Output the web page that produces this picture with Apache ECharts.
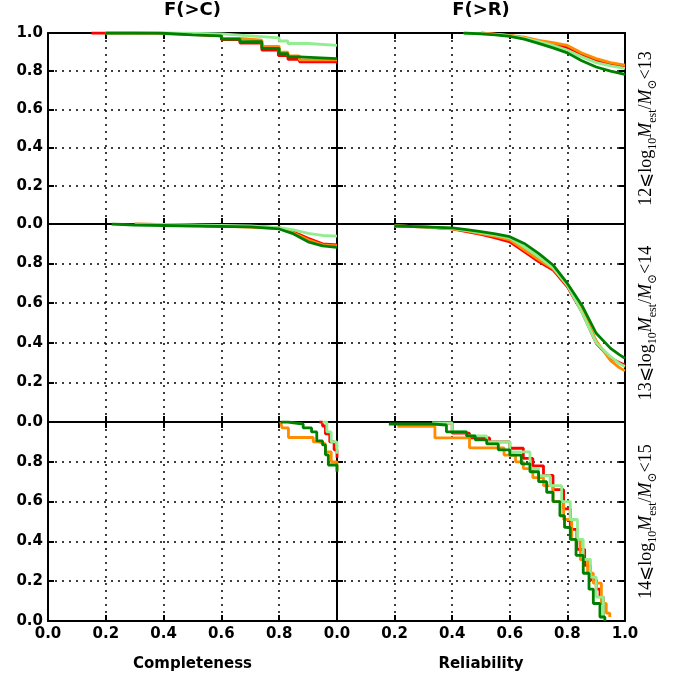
<!DOCTYPE html>
<html><head><meta charset="utf-8">
<script src="https://cdn.jsdelivr.net/npm/echarts@6/dist/echarts.min.js"></script>
<style>html,body{margin:0;padding:0;background:#fff}#c{width:676px;height:676px}</style>
</head><body><div id="c"></div>
<script>
// ---- data: [x, F] points ----
const ticks = [0.0, 0.2, 0.4, 0.6, 0.8, 1.0];
const colTitles = ['F(>C)', 'F(>R)'];
const xNames = ['Completeness', 'Reliability'];
const rowRanges = [['12', '13'], ['13', '14'], ['14', '15']];
const seriesNames = ['red', 'orange', 'lightgreen', 'green'];
const seriesColors = ['#ff0000', '#ff8c00', '#90ee90', '#008000'];

// row 1: 12 <= log M < 13, completeness
const c12_red = [[0.15,1.0],[0.3,0.995],[0.45,0.985],[0.6,0.965],[0.664,0.947],[0.74,0.91],[0.797,0.882],[0.83,0.862],[0.87,0.849],[1.0,0.849]];
const c12_orange = [[0.2,1.0],[0.4,0.995],[0.5,0.985],[0.6,0.972],[0.664,0.962],[0.74,0.93],[0.8,0.9],[0.83,0.88],[0.87,0.859],[1.0,0.859]];
const c12_lightgreen = [[0.2,1.0],[0.45,0.995],[0.6,0.985],[0.7,0.975],[0.8,0.958],[0.83,0.945],[0.9,0.935],[1.0,0.935]];
const c12_green = [[0.2,1.0],[0.38,0.99],[0.5,0.985],[0.6,0.968],[0.664,0.955],[0.74,0.92],[0.8,0.892],[0.83,0.875],[0.87,0.866],[1.0,0.866]];
// row 1: reliability
const r12_red = [[0.5,1.0],[0.6,0.986],[0.65,0.975],[0.7,0.957],[0.75,0.942],[0.8,0.924],[0.85,0.885],[0.9,0.855],[0.95,0.838],[1.0,0.825]];
const r12_orange = [[0.5,1.0],[0.6,0.988],[0.65,0.978],[0.7,0.962],[0.75,0.95],[0.8,0.935],[0.85,0.895],[0.9,0.866],[0.95,0.845],[1.0,0.832]];
const r12_lightgreen = [[0.44,1.0],[0.55,0.993],[0.6,0.985],[0.65,0.973],[0.7,0.955],[0.75,0.935],[0.8,0.909],[0.85,0.875],[0.9,0.845],[0.95,0.828],[1.0,0.815]];
const r12_green = [[0.44,1.0],[0.5,0.995],[0.55,0.99],[0.6,0.982],[0.65,0.968],[0.7,0.946],[0.75,0.922],[0.8,0.896],[0.85,0.855],[0.9,0.822],[0.95,0.8],[1.0,0.783]];
// row 2: 13 <= log M < 14, completeness
const c13_red = [[0.3,1.0],[0.6,0.99],[0.75,0.985],[0.8,0.98],[0.85,0.96],[0.9,0.928],[0.95,0.9],[1.0,0.894]];
const c13_orange = [[0.3,1.0],[0.6,0.99],[0.8,0.978],[0.85,0.955],[0.9,0.92],[0.95,0.895],[1.0,0.89]];
const c13_lightgreen = [[0.3,1.0],[0.7,0.99],[0.8,0.982],[0.85,0.97],[0.9,0.953],[0.95,0.942],[1.0,0.939]];
const c13_green = [[0.22,1.0],[0.3,0.995],[0.5,0.99],[0.7,0.985],[0.8,0.975],[0.85,0.95],[0.9,0.91],[0.95,0.89],[1.0,0.882]];
// row 2: reliability
const r13_red = [[0.2,0.99],[0.3,0.985],[0.4,0.975],[0.45,0.962],[0.5,0.948],[0.55,0.93],[0.6,0.91],[0.65,0.86],[0.7,0.81],[0.75,0.768],[0.8,0.683],[0.85,0.557],[0.9,0.398],[0.95,0.322],[0.98,0.3],[1.0,0.288]];
const r13_orange = [[0.2,0.99],[0.3,0.985],[0.4,0.976],[0.45,0.965],[0.5,0.952],[0.55,0.937],[0.6,0.92],[0.65,0.87],[0.7,0.82],[0.75,0.775],[0.8,0.69],[0.85,0.57],[0.9,0.41],[0.95,0.31],[0.98,0.275],[1.0,0.258]];
const r13_lightgreen = [[0.2,0.99],[0.3,0.985],[0.4,0.978],[0.45,0.968],[0.5,0.956],[0.55,0.944],[0.6,0.93],[0.65,0.885],[0.7,0.835],[0.75,0.78],[0.8,0.69],[0.85,0.555],[0.9,0.4],[0.95,0.33],[0.98,0.295],[1.0,0.28]];
const r13_green = [[0.2,0.99],[0.3,0.985],[0.4,0.98],[0.45,0.972],[0.5,0.961],[0.55,0.95],[0.6,0.936],[0.65,0.902],[0.7,0.852],[0.75,0.793],[0.8,0.7],[0.85,0.59],[0.9,0.448],[0.95,0.372],[0.98,0.34],[1.0,0.322]];
// row 3: 14 <= log M < 15, completeness
const c14_red = [[0.939,1.0],[0.95,0.98],[0.96,0.94],[0.975,0.9],[0.99,0.86],[1.0,0.82]];
const c14_orange = [[0.805,1.0],[0.81,0.97],[0.832,0.922],[0.918,0.9],[0.936,0.89],[0.96,0.85],[0.98,0.8],[1.0,0.758]];
const c14_lightgreen = [[0.95,1.0],[0.965,0.95],[0.98,0.9],[1.0,0.84]];
const c14_green = [[0.805,1.0],[0.83,0.99],[0.883,0.97],[0.912,0.95],[0.93,0.905],[0.95,0.885],[0.96,0.835],[0.97,0.784],[1.0,0.75]];
// row 3: reliability
const r14_red = [[0.33,0.995],[0.4,0.944],[0.46,0.92],[0.53,0.9],[0.6,0.868],[0.647,0.817],[0.68,0.78],[0.717,0.732],[0.75,0.66],[0.787,0.563],[0.81,0.46],[0.833,0.36],[0.86,0.28],[0.88,0.207],[0.9,0.16],[0.913,0.12],[0.925,0.02]];
const r14_orange = [[0.21,0.978],[0.34,0.92],[0.46,0.87],[0.58,0.834],[0.62,0.8],[0.647,0.766],[0.68,0.72],[0.717,0.68],[0.75,0.6],[0.787,0.51],[0.815,0.41],[0.845,0.308],[0.87,0.24],[0.89,0.19],[0.918,0.088],[0.935,0.04],[0.947,0.02]];
const r14_lightgreen = [[0.33,0.995],[0.4,0.95],[0.45,0.93],[0.52,0.9],[0.6,0.85],[0.67,0.766],[0.7,0.73],[0.74,0.68],[0.78,0.6],[0.81,0.51],[0.835,0.41],[0.855,0.31],[0.88,0.22],[0.9,0.12],[0.925,0.02]];
const r14_green = [[0.18,0.99],[0.33,0.985],[0.38,0.95],[0.45,0.93],[0.48,0.91],[0.52,0.89],[0.56,0.86],[0.6,0.834],[0.64,0.79],[0.67,0.75],[0.7,0.7],[0.728,0.647],[0.75,0.6],[0.774,0.529],[0.79,0.47],[0.81,0.41],[0.83,0.33],[0.855,0.24],[0.875,0.16],[0.89,0.088],[0.913,0.02],[0.93,0.0]];

const panels = [
  [c12_red, c12_orange, c12_lightgreen, c12_green],
  [r12_red, r12_orange, r12_lightgreen, r12_green],
  [c13_red, c13_orange, c13_lightgreen, c13_green],
  [r13_red, r13_orange, r13_lightgreen, r13_green],
  [c14_red, c14_orange, c14_lightgreen, c14_green],
  [r14_red, r14_orange, r14_lightgreen, r14_green]
];
// finely stepped curves are drawn as polylines through the read points
const panelStep = ['end', false, false, false, 'end', 'end'];

// ---- layout ----
const colLeft = [48, 337], colWidth = [289, 288];
const rowTop = [26, 224, 422], rowHeight = [198, 198, 199];
const black = '#000';
const fmt = v => v.toFixed(1);
const tickFont = {fontFamily: 'DejaVu Sans', fontSize: 15, fontWeight: 'bold', color: black};

const grid = [], xAxis = [], yAxis = [], series = [];
const serif = 'Liberation Serif, DejaVu Serif';
const richStyles = {
  n: {fontFamily: serif, fontSize: 18, color: black, lineHeight: 26, verticalAlign: 'middle'},
  i: {fontFamily: serif, fontSize: 18, fontStyle: 'italic', color: black, lineHeight: 26, verticalAlign: 'middle'},
  s: {fontFamily: serif, fontSize: 12, color: black, lineHeight: 12, verticalAlign: 'bottom'}
};

for (let p = 0; p < 6; p++) {
  const row = Math.floor(p / 2), col = p % 2;
  grid.push({left: colLeft[col], width: colWidth[col], top: rowTop[row], height: rowHeight[row]});
  const common = {
    type: 'value', min: 0, max: 1, interval: 0.2, gridIndex: p,
    axisLine: {onZero: false, lineStyle: {color: black, width: 2}},
    axisTick: {inside: true, length: 6, lineStyle: {color: black, width: 2}}
  };
  xAxis.push(Object.assign({}, common, {
    position: 'bottom',
    splitLine: {show: true, lineStyle: {color: black, width: 1.5, type: [2, 5]}},
    axisLabel: {show: row === 2, margin: 6, ...tickFont,
      formatter: v => (col === 0 && v >= 0.999) ? '' : fmt(v)},
    name: row === 2 ? xNames[col] : '', nameLocation: 'middle', nameGap: 36,
    nameTextStyle: {fontFamily: 'DejaVu Sans', fontSize: 15, fontWeight: 'bold', color: black}
  }));
  yAxis.push(Object.assign({}, common, {
    position: 'left',
    splitLine: {show: true, lineStyle: {color: black, width: 1.5, type: [2, 5]}},
    axisLabel: {show: col === 0, margin: 5, ...tickFont,
      formatter: v => (row > 0 && v >= 0.999) ? '' : fmt(v)}
  }));
  const s = panels[p];
  for (let k = 0; k < 4; k++) {
    series.push({
      type: 'line', name: seriesNames[k], xAxisIndex: p, yAxisIndex: p,
      data: s[k], step: panelStep[p], showSymbol: false, symbol: 'none',
      lineStyle: {color: seriesColors[k], width: 2.8}, z: 3 + k, silent: true, animation: false
    });
  }
}
for (let p = 0; p < 6; p++) {
  const row = Math.floor(p / 2), col = p % 2;
  const common = {
    type: 'value', min: 0, max: 1, interval: 0.2, gridIndex: p,
    axisLine: {onZero: false, lineStyle: {color: black, width: 2}},
    axisTick: {inside: true, length: 6, lineStyle: {color: black, width: 2}},
    splitLine: {show: false}, axisLabel: {show: false}
  };
  xAxis.push(Object.assign({}, common, {
    position: 'top',
    name: row === 0 ? colTitles[col] : '', nameLocation: 'middle', nameGap: 14,
    nameTextStyle: {fontFamily: 'DejaVu Sans', fontSize: 18, fontWeight: 'bold', color: black}
  }));
  const lo = rowRanges[row][0], hi = rowRanges[row][1];
  yAxis.push(Object.assign({}, common, {
    position: 'right',
    name: col === 1 ? `{n|${lo}⩽log}{s|10}{i|M}{s|est}{n|/}{i|M}{s|⊙}{n|<${hi}}` : '',
    nameLocation: 'middle', nameGap: 8, nameRotate: 90,
    nameTextStyle: {rich: richStyles}
  }));
}

const chart = echarts.init(document.getElementById('c'), null, {renderer: 'canvas'});
chart.setOption({animation: false, backgroundColor: '#fff', grid, xAxis, yAxis, series});
</script></body></html>
